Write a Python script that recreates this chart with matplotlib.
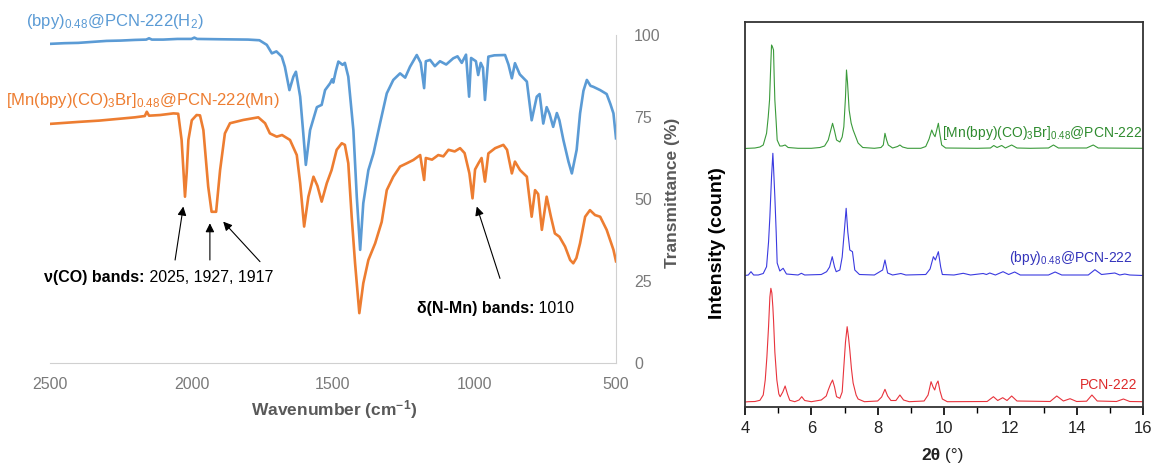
import numpy as np
import matplotlib
matplotlib.use("Agg")
import matplotlib.pyplot as plt

plt.rcParams['font.family'] = ['Liberation Sans', 'DejaVu Sans']
plt.rcParams['mathtext.fontset'] = 'custom'
plt.rcParams['mathtext.rm'] = 'Liberation Sans'
plt.rcParams['mathtext.it'] = 'Liberation Sans:italic'
plt.rcParams['mathtext.bf'] = 'Liberation Sans:bold'

# ---- IR data (wavenumber cm-1, transmittance %) ----
ir_h2_wn = [2500, 2450, 2400, 2350, 2300, 2250, 2200, 2160, 2150, 2140, 2100, 2050, 2000, 1990, 1980,
            1900, 1800, 1760, 1734, 1716, 1700, 1681, 1670, 1654, 1640, 1631, 1616, 1605, 1596, 1588,
            1581, 1557, 1540, 1528, 1510, 1503, 1499, 1490, 1481, 1466, 1458, 1446, 1428, 1416, 1404,
            1393, 1375, 1357, 1334, 1310, 1287, 1263, 1245, 1228, 1204, 1190, 1178, 1172, 1157, 1140,
            1122, 1100, 1075, 1060, 1045, 1030, 1019, 1012, 995, 987, 978, 970, 963, 951, 930, 892,
            880, 868, 857, 840, 815, 798, 780, 770, 757, 745, 735, 722, 709, 700, 686, 668, 656, 639,
            627, 615, 603, 590, 580, 556, 533, 520, 509, 500]
ir_h2_t = [97.3, 97.5, 97.6, 97.9, 98.2, 98.3, 98.5, 98.6, 99.0, 98.6, 98.6, 98.8, 98.8, 99.2, 98.8,
           98.7, 98.6, 98.4, 97.0, 94.4, 95.0, 93.4, 90.3, 83.2, 87.3, 88.8, 81.2, 70.0, 60.4, 66.0,
           71.0, 78.0, 78.7, 83.2, 85.3, 86.5, 85.5, 89.0, 91.9, 90.9, 91.5, 87.3, 71.0, 50.7, 34.5,
           48.7, 58.8, 63.9, 73.0, 82.2, 86.3, 88.3, 87.0, 90.3, 93.9, 91.5, 83.8, 92.0, 92.4, 90.5,
           92.0, 91.0, 92.9, 93.5, 91.5, 94.0, 81.2, 93.0, 92.0, 87.8, 91.5, 90.0, 80.2, 93.4, 93.8, 93.9,
           91.0, 86.8, 91.4, 88.0, 85.8, 74.0, 81.2, 82.0, 73.0, 78.0, 76.0, 72.0, 76.2, 74.0, 68.0, 61.4, 57.8, 65.0,
           76.1, 83.0, 86.3, 84.5, 84.2, 83.2, 82.0, 79.0, 76.1, 68.5]

ir_mn_wn = [2500, 2450, 2400, 2326, 2250, 2200, 2165, 2158, 2150, 2111, 2064, 2047, 2035, 2028, 2023,
            2017, 2011, 1999, 1982, 1970, 1958, 1941, 1929, 1913, 1899, 1882, 1864, 1817, 1764, 1740,
            1723, 1699, 1680, 1652, 1628, 1616, 1602, 1587, 1569, 1555, 1540, 1522, 1505, 1487, 1469,
            1458, 1446, 1434, 1422, 1407, 1393, 1375, 1351, 1328, 1310, 1287, 1263, 1239, 1216, 1192,
            1178, 1172, 1150, 1128, 1110, 1092, 1070, 1051, 1035, 1018, 1007, 998, 986, 975, 963, 951,
            927, 898, 885, 868, 857, 839, 815, 798, 786, 775, 762, 745, 730, 716, 700, 680, 662, 651,
            640, 627, 609, 592, 574, 556, 533, 509, 500]
ir_mn_t = [72.9, 73.2, 73.5, 73.9, 74.5, 74.9, 75.3, 76.6, 75.4, 75.6, 76.1, 76.0, 68.0, 58.0, 50.7,
           58.0, 68.0, 74.0, 75.6, 75.5, 71.0, 53.8, 46.1, 46.1, 58.8, 70.0, 73.1, 74.1, 74.9, 73.1,
           70.0, 69.0, 69.5, 68.0, 63.4, 54.8, 41.6, 50.7, 56.8, 54.0, 49.2, 54.8, 58.8, 65.0, 67.0,
           66.5, 60.9, 44.6, 30.4, 15.2, 24.3, 31.4, 36.5, 43.0, 52.7, 56.8, 59.9, 60.9, 61.9, 63.4,
           55.8, 62.5, 62.0, 63.4, 63.0, 65.0, 64.5, 65.5, 64.0, 57.8, 50.2, 59.0, 60.9, 62.5, 55.3, 63.9,
           65.5, 66.5, 65.0, 57.8, 61.4, 58.8, 56.8, 44.6, 52.7, 51.5, 40.6, 50.7, 44.6, 39.5, 38.5, 35.5, 31.4, 30.4,
           32.0, 36.5, 44.6, 46.6, 45.1, 44.6, 40.6, 34.5, 31.0]

# ---- PXRD data (2theta, stacked intensity) ----
xrd_mn_2t = [4.00, 4.10, 4.30, 4.45, 4.55, 4.65, 4.70, 4.74, 4.78, 4.80, 4.83, 4.86, 4.88, 4.90, 4.94,
             4.97, 5.05, 5.12, 5.21, 5.30, 5.60, 6.00, 6.26, 6.40, 6.51, 6.58, 6.64, 6.70, 6.76, 6.86,
             6.93, 6.98, 7.03, 7.06, 7.09, 7.14, 7.20, 7.26, 7.41, 7.55, 7.90, 8.10, 8.17, 8.22, 8.27,
             8.32, 8.45, 8.60, 8.67, 8.75, 8.90, 9.30, 9.45, 9.55, 9.63, 9.68, 9.73, 9.78, 9.83, 9.88,
             9.93, 10.05, 11.00, 11.40, 11.50, 11.60, 11.74, 11.85, 12.04, 12.20, 12.60, 13.15, 13.30,
             13.45, 14.30, 14.50, 14.65, 16.00]
xrd_mn_i = [258.5, 258.7, 259.0, 260.0, 262.0, 273.7, 290.0, 307.0, 345.0, 362.0, 360.0, 357.0, 330.0, 307.0, 285.0,
            267.0, 261.0, 261.0, 262.0, 259.5, 258.7, 258.7, 259.5, 261.0, 267.0, 276.0, 283.7, 276.0, 267.0, 265.0,
            270.0, 280.3, 310.0, 337.0, 325.0, 297.0, 284.0, 277.0, 264.0, 259.5, 258.7, 259.5, 262.0, 273.7, 267.0,
            262.0, 259.0, 260.5, 262.0, 260.0, 258.7, 258.7, 260.5, 268.0, 277.0, 273.0, 270.3, 277.0, 283.7, 272.0,
            262.0, 259.0, 258.7, 259.0, 261.5, 259.5, 261.5, 259.0, 262.0, 259.0, 258.7, 259.0, 262.0,
            259.0, 259.0, 262.0, 259.0, 258.7]

xrd_bpy_2t = [4.00, 4.10, 4.18, 4.26, 4.40, 4.55, 4.65, 4.71, 4.75, 4.80, 4.84, 4.86, 4.88, 4.90, 4.94,
              4.97, 5.05, 5.15, 5.25, 5.60, 5.70, 5.80, 6.30, 6.46, 6.55, 6.63, 6.70, 6.75, 6.86, 6.93,
              6.99, 7.05, 7.10, 7.16, 7.24, 7.31, 7.45, 7.90, 8.15, 8.22, 8.30, 8.45, 8.70, 8.85, 9.45,
              9.58, 9.68, 9.74, 9.83, 9.90, 9.95, 10.30, 10.58, 10.80, 11.18, 11.28, 11.38, 11.55, 11.78,
              11.95, 12.13, 12.30, 13.15, 13.35, 13.55, 14.35, 14.55, 14.75, 15.15, 15.30, 15.45, 15.60, 16.00]
xrd_bpy_i = [131.5, 132.0, 135.3, 132.0, 132.0, 133.5, 140.3, 165.0, 190.3, 230.0, 253.7, 240.0, 225.0, 210.3, 175.0,
             144.0, 136.0, 138.7, 133.0, 132.0, 133.7, 132.0, 132.5, 135.3, 140.0, 150.3, 140.0, 135.3, 137.0, 150.0,
             174.0, 198.7, 175.0, 157.0, 155.3, 137.0, 132.5, 132.0, 137.0, 147.0, 134.0, 132.0, 133.5, 132.0, 132.5,
             138.0, 150.3, 147.0, 155.3, 140.0, 132.5, 132.0, 133.7, 132.0, 133.5, 132.5, 134.0, 132.0, 135.3,
             132.5, 135.0, 132.0, 132.0, 135.0, 132.0, 132.0, 137.3, 132.5, 134.0, 132.0, 133.0, 132.0, 131.5]

xrd_pcn_2t = [4.00, 4.10, 4.30, 4.45, 4.55, 4.61, 4.66, 4.71, 4.75, 4.78, 4.81, 4.84, 4.86, 4.90, 4.96,
              5.02, 5.06, 5.14, 5.21, 5.28, 5.35, 5.50, 5.63, 5.71, 5.80, 6.00, 6.30, 6.45, 6.51, 6.58,
              6.64, 6.70, 6.76, 6.86, 6.93, 6.98, 7.03, 7.08, 7.12, 7.16, 7.21, 7.26, 7.35, 7.41, 7.60,
              8.00, 8.12, 8.22, 8.30, 8.40, 8.55, 8.67, 8.78, 8.95, 9.40, 9.52, 9.61, 9.67, 9.72, 9.77,
              9.82, 9.88, 9.95, 10.10, 11.30, 11.49, 11.62, 11.77, 11.90, 12.04, 12.20, 13.20, 13.40, 13.60,
              13.80, 14.00, 14.30, 14.46, 14.62, 15.20, 15.41, 15.60, 16.00]
xrd_pcn_i = [5.0, 5.3, 5.5, 6.7, 12.0, 27.0, 50.0, 80.3, 110.0, 118.7, 114.0, 100.0, 87.0, 55.0, 27.0,
             13.0, 10.3, 15.0, 21.0, 13.0, 6.7, 5.3, 7.0, 10.3, 6.5, 5.3, 7.0, 11.0, 17.0, 23.0,
             27.0, 20.0, 10.3, 8.7, 15.0, 40.3, 65.0, 80.3, 70.0, 57.0, 38.0, 24.0, 12.0, 8.0, 5.3,
             6.0, 10.0, 17.7, 11.0, 6.5, 6.5, 12.0, 7.0, 5.3, 6.0, 12.0, 25.3, 20.0, 17.0, 23.0,
             26.0, 16.0, 8.0, 5.3, 5.5, 10.3, 6.5, 9.3, 6.5, 11.0, 6.0, 5.5, 11.0, 6.0,
             8.3, 5.5, 5.8, 12.0, 6.0, 5.5, 8.0, 5.5, 5.3]

IR_BLUE = '#5B9BD5'
IR_ORANGE = '#ED7D31'

fig = plt.figure(figsize=(11.52, 4.65), dpi=100)

# ---------------- left panel: IR ----------------
ax = fig.add_axes([50 / 1152, 102 / 465, 566 / 1152, 328 / 465])
ax.plot(ir_h2_wn, ir_h2_t, color=IR_BLUE, lw=1.9)
ax.plot(ir_mn_wn, ir_mn_t, color=IR_ORANGE, lw=1.9)
ax.set_xlim(2500, 500)
ax.set_ylim(0, 100)
ax.set_xticks([2500, 2000, 1500, 1000, 500])
ax.set_yticks([0, 25, 50, 75, 100])
ax.yaxis.tick_right()
ax.tick_params(axis='x', length=0, pad=10, labelsize=11.5, labelcolor='#7a7a7a')
ax.tick_params(axis='y', length=0, pad=13, labelsize=11.5, labelcolor='#7a7a7a')
for s in ['top', 'left']:
    ax.spines[s].set_visible(False)
for s in ['bottom', 'right']:
    ax.spines[s].set_color('#d0d0d0')

ax.text(2585, 104, r'(bpy)$_{0.48}$@PCN-222(H$_2$)', color=IR_BLUE, fontsize=12,
        va='center', ha='left', clip_on=False)
ax.text(2655, 80, r'[Mn(bpy)(CO)$_3$Br]$_{0.48}$@PCN-222(Mn)', color=IR_ORANGE, fontsize=12,
        va='center', ha='left', clip_on=False)

fig.text(334 / 1152, 1 - 410 / 465, r'Wavenumber (cm$^{\mathbf{-1}}$)', fontsize=12.5,
         fontweight='bold', color='#595959', ha='center', va='center')
fig.text(672 / 1152, 1 - 193 / 465, 'Transmittance (%)', fontsize=12.5, fontweight='bold',
         color='#595959', ha='center', va='center', rotation=90)

arrow_kw = dict(arrowstyle='-|>', color='black', lw=0.8, mutation_scale=13, shrinkA=0, shrinkB=0)
co_tips = [(2029, 47.7), (1935, 42.6), (1888, 43.1)]
co_tails = [(2058, 31.4), (1935, 31.4), (1758, 30.9)]
for tip, tail in zip(co_tips, co_tails):
    ax.annotate('', xy=tip, xytext=tail, arrowprops=arrow_kw)
ax.annotate('', xy=(992, 47.7), xytext=(910, 25.8), arrowprops=arrow_kw)


def two_part(a, x, y, bold, normal, size, color='black', transform=None):
    t1 = a.text(x, y, bold, fontweight='bold', fontsize=size, color=color, ha='left', va='center',
                clip_on=False, transform=transform if transform is not None else a.transData)
    a.annotate(normal, xy=(1, 0.5), xycoords=t1, fontsize=size, color=color, ha='left', va='center',
               annotation_clip=False)
    return t1


two_part(ax, 2521, 26.2, 'ν(CO) bands:', ' 2025, 1927, 1917', 11.5)
two_part(ax, 1204, 16.7, 'δ(N-Mn) bands:', ' 1010', 11.5)

# ---------------- right panel: PXRD ----------------
bx = fig.add_axes([745 / 1152, 58 / 465, 398 / 1152, 385 / 465])
bx.plot(xrd_pcn_2t, xrd_pcn_i, color='#e8333c', lw=0.8)
bx.plot(xrd_bpy_2t, xrd_bpy_i, color='#3a3ae0', lw=0.8)
bx.plot(xrd_mn_2t, xrd_mn_i, color='#3a9a3a', lw=0.8)
bx.set_xlim(4, 16)
bx.set_ylim(0, 385)
bx.set_yticks([])
bx.set_xticks(np.arange(4, 17, 2))
bx.set_xticks(np.arange(5, 16, 2), minor=True)
bx.tick_params(axis='x', which='major', direction='out', length=6, width=1.2, labelsize=12,
               pad=4, labelcolor='#222222')
bx.tick_params(axis='x', which='minor', direction='out', length=4, width=1.0)
for s in bx.spines.values():
    s.set_linewidth(1.3)
    s.set_color('#333333')

bx.text(15.97, 274, r'[Mn(bpy)(CO)$_3$Br]$_{0.48}$@PCN-222', color='#2e8b2e', fontsize=10,
        ha='right', va='center')
bx.text(15.70, 149, r'(bpy)$_{0.48}$@PCN-222', color='#3333bb', fontsize=10, ha='right', va='center')
bx.text(15.82, 22, 'PCN-222', color='#dd2a2a', fontsize=10, ha='right', va='center')

fig.text(717 / 1152, 1 - 243 / 465, 'Intensity (count)', fontsize=14, fontweight='bold',
         color='black', ha='center', va='center', rotation=90)
two_part(bx, 921 / 1152, 1 - 455 / 465, '2θ', ' (°)', 12.5, color='#222222', transform=fig.transFigure)

fig.savefig('out.png', dpi=100)
